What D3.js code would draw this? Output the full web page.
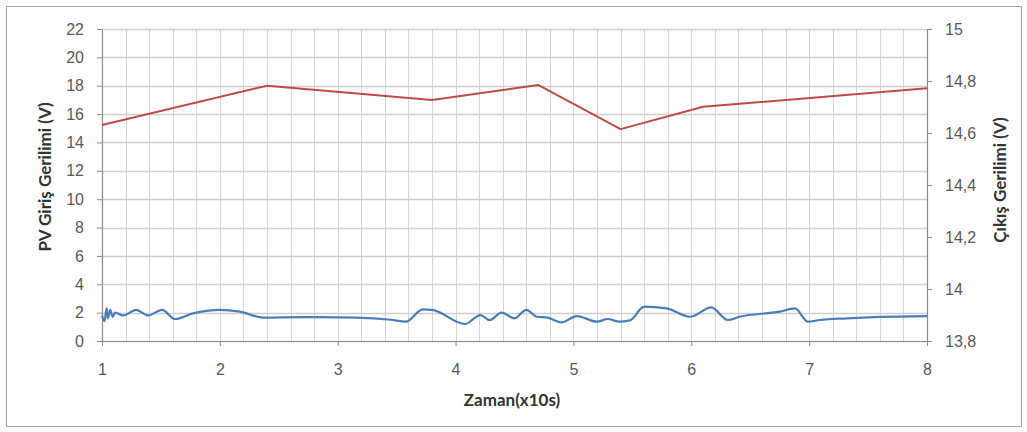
<!DOCTYPE html>
<html>
<head>
<meta charset="utf-8">
<script src="https://cdn.jsdelivr.net/npm/d3@7"></script>
<style>
  html, body { margin: 0; padding: 0; background: #fff; }
  svg { display: block; font-family: Lato, "Open Sans", "Liberation Sans", sans-serif; }
</style>
</head>
<body>
<svg id="chart" width="1027" height="432"></svg>
<script>
// Time axis (x10 s)
const xTicks = [1, 2, 3, 4, 5, 6, 7, 8];
const leftTicks = [0, 2, 4, 6, 8, 10, 12, 14, 16, 18, 20, 22];
const rightTicks = [13.8, 14, 14.2, 14.4, 14.6, 14.8, 15];

// PV input voltage (left axis)
const pvTime = [1, 1.02, 1.04, 1.05, 1.07, 1.09, 1.11, 1.18, 1.29, 1.39, 1.51, 1.62, 1.77, 2.0, 2.17, 2.37,
  2.7, 3.16, 3.45, 3.58, 3.72, 3.8, 4.08, 4.21, 4.29, 4.39, 4.5, 4.6, 4.69, 4.78, 4.9, 5.03, 5.2, 5.29,
  5.39, 5.48, 5.6, 5.79, 5.99, 6.17, 6.31, 6.41, 6.75, 6.88, 6.99, 7.09, 7.32, 7.6, 8.0];
const pvVolt = [1.8, 1.4, 2.3, 1.6, 2.2, 1.7, 2.0, 1.8, 2.2, 1.8, 2.2, 1.55, 1.95, 2.2, 2.07, 1.65,
  1.68, 1.65, 1.5, 1.36, 2.23, 2.2, 1.2, 1.83, 1.48, 2.0, 1.6, 2.2, 1.71, 1.65, 1.32, 1.76, 1.36, 1.55,
  1.36, 1.45, 2.42, 2.3, 1.71, 2.37, 1.48, 1.71, 2.07, 2.3, 1.36, 1.48, 1.6, 1.7, 1.76];

// Output voltage (right axis)
const outTime = [1, 2.4, 3.8, 4.7, 5.4, 6.1, 8];
const outVolt = [14.631, 14.782, 14.727, 14.785, 14.615, 14.701, 14.772];

const svg = d3.select("#chart");
const plotL = 102, plotR = 927, plotT = 29, plotB = 341;

const x = d3.scaleLinear().domain([1, 8]).range([plotL, plotR]);
const yL = d3.scaleLinear().domain([0, 22]).range([plotB, plotT]);
const yR = d3.scaleLinear().domain([13.8, 15]).range([plotB, plotT]);

// outer chart frame
svg.append("rect")
  .attr("x", 6.5).attr("y", 6.5).attr("width", 1015).attr("height", 420)
  .attr("fill", "#fff").attr("stroke", "#a6a6a6").attr("stroke-width", 1);

// vertical gridlines every 0.2
const grid = svg.append("g");
grid.selectAll("line.v").data(d3.range(0, 36).map(i => 1 + i * 0.2))
  .join("line").attr("class", "v")
  .attr("x1", d => Math.round(x(d)) + 0.5).attr("x2", d => Math.round(x(d)) + 0.5)
  .attr("y1", plotT).attr("y2", plotB)
  .attr("stroke", "#d4d4d4").attr("stroke-width", 1);
// horizontal gridlines at left ticks
grid.selectAll("line.h").data(leftTicks)
  .join("line").attr("class", "h")
  .attr("x1", plotL).attr("x2", plotR)
  .attr("y1", d => Math.round(yL(d)) + 0.5).attr("y2", d => Math.round(yL(d)) + 0.5)
  .attr("stroke", "#cfcfcf").attr("stroke-width", 1.3);

function styleAxis(g) {
  g.selectAll(".domain").attr("stroke", "#8c8c8c").attr("stroke-width", 1.2);
  g.selectAll(".tick line").attr("stroke", "#8c8c8c");
  g.selectAll(".tick text").attr("fill", "#595959").style("font-size", "16px");
}

const fmtComma = d => String(+d.toFixed(1)).replace(".", ",");

svg.append("g").attr("transform", `translate(${plotL},0)`)
  .call(d3.axisLeft(yL).tickValues(leftTicks).tickSize(5).tickPadding(13).tickSizeOuter(0))
  .call(styleAxis);

svg.append("g").attr("transform", `translate(${plotR},0)`)
  .call(d3.axisRight(yR).tickValues(rightTicks).tickFormat(fmtComma).tickSize(5).tickPadding(13).tickSizeOuter(0))
  .call(styleAxis);

svg.append("g").attr("transform", `translate(0,${plotB})`)
  .call(d3.axisBottom(x).tickValues(xTicks).tickFormat(d3.format("d")).tickSize(5).tickPadding(18).tickSizeOuter(0))
  .call(styleAxis);

// series
const pvLine = d3.line().x((d, i) => x(pvTime[i])).y(d => yL(d)).curve(d3.curveMonotoneX);
svg.append("path").datum(pvVolt)
  .attr("d", pvLine)
  .attr("fill", "none").attr("stroke", "#4a7ebb").attr("stroke-width", 2.2)
  .attr("stroke-linejoin", "round");

const outLine = d3.line().x((d, i) => x(outTime[i])).y(d => yR(d));
svg.append("path").datum(outVolt)
  .attr("d", outLine)
  .attr("fill", "none").attr("stroke", "#be4b48").attr("stroke-width", 2)
  .attr("stroke-linejoin", "round");

// axis titles
svg.append("text").attr("x", 512).attr("y", 406)
  .attr("text-anchor", "middle").attr("font-weight", "bold").attr("font-size", 17)
  .attr("fill", "#333").text("Zaman(x10s)");

svg.append("text").attr("transform", "translate(51,177) rotate(-90)")
  .attr("text-anchor", "middle").attr("font-weight", "bold").attr("font-size", 17)
  .attr("fill", "#333").text("PV Giriş Gerilimi (V)");

svg.append("text").attr("transform", "translate(1006,180) rotate(-90)")
  .attr("text-anchor", "middle").attr("font-weight", "bold").attr("font-size", 17)
  .attr("fill", "#333").text("Çıkış Gerilimi (V)");
</script>
</body>
</html>
